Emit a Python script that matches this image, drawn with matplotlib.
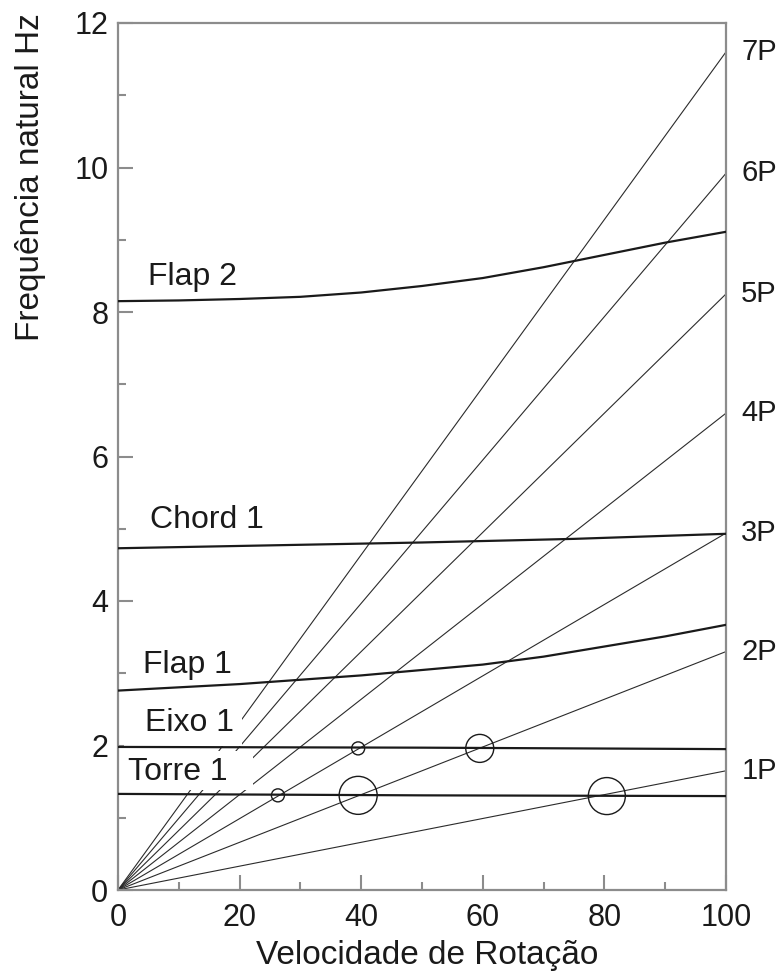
import matplotlib
matplotlib.use("Agg")
import matplotlib.pyplot as plt
from matplotlib.patches import Rectangle

plt.rcParams["font.family"] = ["Liberation Sans", "DejaVu Sans"]

# Dados (velocidade de rotação x frequência natural, Hz)
rot_flap2 = [0, 10, 20, 30, 40, 50, 60, 70, 80, 90, 100]
freq_flap2 = [8.15, 8.16, 8.18, 8.21, 8.27, 8.36, 8.47, 8.62, 8.79, 8.96, 9.11]

rot_chord1 = [0, 25, 50, 75, 100]
freq_chord1 = [4.73, 4.77, 4.81, 4.86, 4.93]

rot_flap1 = [0, 20, 40, 60, 70, 80, 90, 100]
freq_flap1 = [2.76, 2.85, 2.97, 3.12, 3.23, 3.37, 3.51, 3.67]

rot_eixo1 = [0, 50, 100]
freq_eixo1 = [1.98, 1.97, 1.95]

rot_torre1 = [0, 50, 100]
freq_torre1 = [1.33, 1.31, 1.30]

# linhas de excitação nP (de 0 até a velocidade máxima)
harm_labels = ["1P", "2P", "3P", "4P", "5P", "6P", "7P"]
harm_rot = [0, 100]
harm_end = [1.65, 3.30, 4.94, 6.60, 8.25, 9.92, 11.60]

# pontos de ressonância marcados com círculos
res_x = [26.3, 39.5, 39.5, 59.5, 80.4]
res_y = [1.31, 1.96, 1.31, 1.96, 1.30]

curves = [
    ("Flap 2", rot_flap2, freq_flap2),
    ("Chord 1", rot_chord1, freq_chord1),
    ("Flap 1", rot_flap1, freq_flap1),
    ("Eixo 1", rot_eixo1, freq_eixo1),
    ("Torre 1", rot_torre1, freq_torre1),
]

# posição dos rótulos das curvas (x, y da linha de base)
label_pos = {
    "Flap 2": (4.9, 8.38),
    "Chord 1": (5.3, 5.01),
    "Flap 1": (4.1, 3.00),
    "Eixo 1": (4.4, 2.20),
    "Torre 1": (1.6, 1.52),
}
# áreas brancas atrás dos rótulos que interrompem as linhas nP
label_masks = [(1.0, 22.2, 1.38, 1.93), (1.0, 20.4, 2.00, 2.70)]
res_diam_px = [13, 13, 38, 28, 37]

spine_col = "#8c8c8c"
ink = "#1a1a1a"

fig = plt.figure(figsize=(7.8, 9.76), dpi=100)
ax = fig.add_axes([118 / 780, 86 / 976, 608 / 780, 867 / 976])

for end in harm_end:
    ax.plot(harm_rot, [0, end], color="#2b2b2b", lw=0.8, zorder=2)

for x0, x1, y0, y1 in label_masks:
    ax.add_patch(Rectangle((x0, y0), x1 - x0, y1 - y0, facecolor="white",
                           edgecolor="none", zorder=2.5))

for name, xs, ys in curves:
    ax.plot(xs, ys, color=ink, lw=1.6, zorder=3)
    tx, ty = label_pos[name]
    ax.text(tx, ty, name, fontsize=23, color=ink, ha="left", va="baseline", zorder=5)

sizes = [(d * 0.72) ** 2 for d in res_diam_px]
ax.scatter(res_x, res_y, s=sizes, facecolors="none", edgecolors=ink,
           linewidths=1.0, zorder=4)

for lab, end in zip(harm_labels, harm_end):
    ax.annotate(lab, xy=(100, end), xytext=(11, 0), textcoords="offset points",
                fontsize=21, color=ink, ha="left", va="center",
                annotation_clip=False)

ax.set_xlim(0, 100)
ax.set_ylim(0, 12)
ax.set_xticks(range(0, 101, 20))
ax.set_xticks(range(10, 100, 20), minor=True)
ax.set_yticks(range(0, 13, 2))
ax.set_yticks(range(1, 12, 2), minor=True)

for s in ax.spines.values():
    s.set_color(spine_col)
    s.set_linewidth(1.6)

ax.tick_params(which="both", direction="in", color=spine_col, width=1.5,
               labelsize=22, labelcolor=ink, top=False, right=False)
ax.tick_params(which="major", length=11)
ax.tick_params(which="minor", length=6)
ax.tick_params(axis="x", pad=9)
ax.tick_params(axis="y", pad=7)

ax.set_xlabel("Velocidade de Rotação", fontsize=24, color=ink)
ax.xaxis.set_label_coords(0.508, -0.058)
ax.set_ylabel("Frequência natural Hz", fontsize=24, color=ink)
ax.yaxis.set_label_coords(-0.118, 0.822)

fig.savefig("out.png", dpi=100)
